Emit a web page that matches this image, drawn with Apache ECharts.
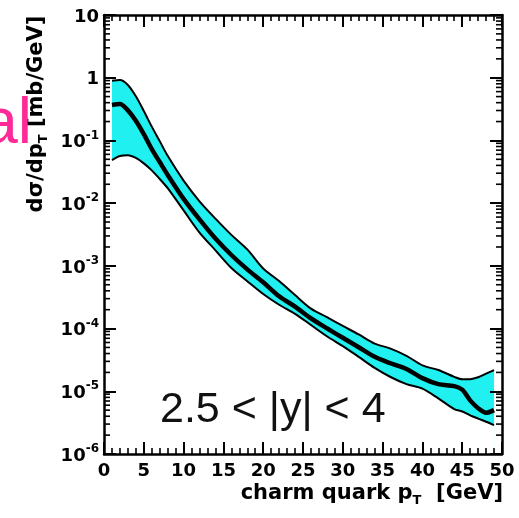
<!DOCTYPE html>
<html>
<head>
<meta charset="utf-8">
<script src="https://cdn.jsdelivr.net/npm/echarts@6/dist/echarts.min.js"></script>
<style>
  html, body { margin: 0; padding: 0; background: #fff; }
  #chart { width: 519px; height: 518px; }
</style>
</head>
<body>
<div id="chart"></div>
<script>
// charm quark pT spectrum, forward rapidity, with uncertainty band
const pT = [1, 2, 3, 4, 5, 6, 7, 8, 10, 12, 14, 16, 18, 20, 22, 24, 26, 28, 30, 32, 34, 36, 38, 40, 42, 44, 45, 46, 47, 48, 49];
const central = [0.367, 0.381, 0.301, 0.206, 0.126, 0.0729, 0.0453, 0.0282, 0.0117, 0.0055, 0.00272, 0.00149, 8.79e-4, 5.46e-4, 3.27e-4, 2.24e-4, 1.45e-4, 1.01e-4, 7.13e-5, 5.03e-5, 3.54e-5, 2.80e-5, 2.27e-5, 1.62e-5, 1.30e-5, 1.21e-5, 1.06e-5, 7.16e-6, 5.37e-6, 4.54e-6, 5.01e-6];
const upper = [0.896, 0.918, 0.766, 0.505, 0.295, 0.166, 0.0975, 0.0568, 0.0229, 0.0107, 0.00566, 0.00312, 0.00183, 9.1e-4, 5.73e-4, 3.42e-4, 2.08e-4, 1.52e-4, 1.10e-4, 8.05e-5, 5.77e-5, 4.8e-5, 3.68e-5, 2.59e-5, 2.18e-5, 1.70e-5, 1.55e-5, 1.56e-5, 1.67e-5, 1.91e-5, 2.18e-5];
const lower = [0.0486, 0.0564, 0.0581, 0.0526, 0.0431, 0.0333, 0.0243, 0.0173, 0.00766, 0.00339, 0.00177, 9.27e-4, 5.70e-4, 3.56e-4, 2.40e-4, 1.72e-4, 1.14e-4, 7.54e-5, 5.26e-5, 3.54e-5, 2.36e-5, 1.69e-5, 1.30e-5, 1.10e-5, 7.71e-6, 5.20e-6, 4.76e-6, 4.14e-6, 3.67e-6, 3.27e-6, 2.89e-6];

const yDecades = [-6, -5, -4, -3, -2, -1, 0, 1];
const minorFactors = [2, 3, 4, 5, 6, 7, 8, 9];
const rangeLabel = '2.5 < |y| < 4';
const xTitle = ['charm quark p', 'T', '  [GeV]'];
const yTitle = ['d\u03c3/dp', 'T', ' [mb/GeV]'];
const cornerText = 'al';

const FONT = 'DejaVu Sans';
const BAND = '#20f0f0';

const zip = arr => pT.map((x, i) => [x, arr[i]]);

// values for the small ticks between decades
const minorVals = [];
yDecades.slice(0, -1).forEach(e => minorFactors.forEach(f => minorVals.push([0, f * Math.pow(10, e)])));

function yLabel(v) {
  const e = Math.round(Math.log10(v));
  if (yDecades.indexOf(e) < 0) return '';
  if (e === 0) return '{b|1}';
  if (e === 1) return '{b|10}';
  return '{b|10}{s|' + e + '}';
}

const tickLine = { color: '#000', width: 2 };
const frameLine = { show: true, onZero: false, lineStyle: { color: '#000', width: 2.5 } };

const xBase = {
  type: 'value', min: 0, max: 50, interval: 5, z: 10,
  axisLine: frameLine,
  splitLine: { show: false },
  axisTick: { inside: true, length: 12, lineStyle: tickLine },
  minorTick: { show: true, splitNumber: 5, length: 6, lineStyle: { color: '#000', width: 1.6 } }
};
const yBase = {
  type: 'log', logBase: 10, min: 1e-6, max: 10, splitNumber: 7, z: 10,
  axisLine: frameLine,
  splitLine: { show: false },
  axisTick: { inside: true, length: 12, lineStyle: tickLine }
};

const titleRich = {
  n: { fontFamily: FONT, fontWeight: 'bold', fontSize: 21, lineHeight: 24, verticalAlign: 'top', color: '#000' },
  t: { fontFamily: FONT, fontWeight: 'bold', fontSize: 13, verticalAlign: 'bottom', color: '#000' }
};

const option = {
  animation: false,
  backgroundColor: '#fff',
  grid: { left: 104, right: 17, top: 15, bottom: 64 },
  xAxis: [
    Object.assign({}, xBase, {
      position: 'bottom',
      axisLabel: { margin: 8, color: '#000', fontFamily: FONT, fontWeight: 'bold', fontSize: 18 }
    }),
    Object.assign({}, xBase, { position: 'top', axisLabel: { show: false } })
  ],
  yAxis: [
    Object.assign({}, yBase, {
      position: 'left',
      axisLabel: {
        margin: 5, formatter: yLabel,
        rich: {
          b: { fontFamily: FONT, fontWeight: 'bold', fontSize: 18, lineHeight: 22, verticalAlign: 'bottom', color: '#000' },
          s: { fontFamily: FONT, fontWeight: 'bold', fontSize: 12, verticalAlign: 'top', color: '#000' }
        }
      }
    }),
    Object.assign({}, yBase, { position: 'right', axisLabel: { show: false } })
  ],
  series: [
    {
      // band: filled down from the upper edge
      type: 'line', name: 'upper', data: zip(upper), smooth: 0.3, symbol: 'none',
      lineStyle: { color: '#000', width: 2 },
      areaStyle: { color: BAND, opacity: 1, origin: 'start' }
    },
    {
      // clears the region below the lower edge
      type: 'line', name: 'lower', data: zip(lower), smooth: 0.3, symbol: 'none',
      lineStyle: { color: '#000', width: 2 },
      areaStyle: { color: '#fff', opacity: 1, origin: 'start' }
    },
    {
      type: 'line', name: 'central', data: zip(central), smooth: 0.3, symbol: 'none',
      lineStyle: { color: '#000', width: 4.5 }, z: 3
    },
    {
      // decade sub-ticks on the left and right frame
      type: 'custom', name: 'minorTicks', data: minorVals, clip: false, silent: true, z: 11,
      renderItem: function (params, api) {
        const v = api.value(1);
        const l = api.coord([0, v]);
        const r = api.coord([50, v]);
        return {
          type: 'group',
          children: [
            { type: 'line', shape: { x1: l[0], y1: l[1], x2: l[0] + 6, y2: l[1] }, style: { stroke: '#000', lineWidth: 1.6 } },
            { type: 'line', shape: { x1: r[0] - 6, y1: r[1], x2: r[0], y2: r[1] }, style: { stroke: '#000', lineWidth: 1.6 } }
          ]
        };
      }
    }
  ],
  graphic: [
    {
      type: 'text', x: 160, y: 410, z: 100,
      style: { text: rangeLabel, fontFamily: 'Liberation Sans', fontSize: 43, fill: '#111', align: 'left', verticalAlign: 'middle' }
    },
    {
      type: 'text', x: 503, y: 495, z: 100,
      style: { text: '{n|' + xTitle[0] + '}{t|' + xTitle[1] + '}{n|' + xTitle[2] + '}', rich: titleRich, align: 'right', verticalAlign: 'middle' }
    },
    {
      type: 'text', x: 38, y: 114, rotation: Math.PI / 2, z: 100,
      style: { text: '{n|' + yTitle[0] + '}{t|' + yTitle[1] + '}{n|' + yTitle[2] + '}', rich: titleRich, align: 'center', verticalAlign: 'middle' }
    },
    {
      type: 'text', x: 32, y: 125, z: 100,
      style: { text: cornerText, fontFamily: 'Liberation Sans', fontSize: 64, fill: '#ff2a98', align: 'right', verticalAlign: 'middle' }
    }
  ]
};

const chart = echarts.init(document.getElementById('chart'));
chart.setOption(option);
</script>
</body>
</html>
